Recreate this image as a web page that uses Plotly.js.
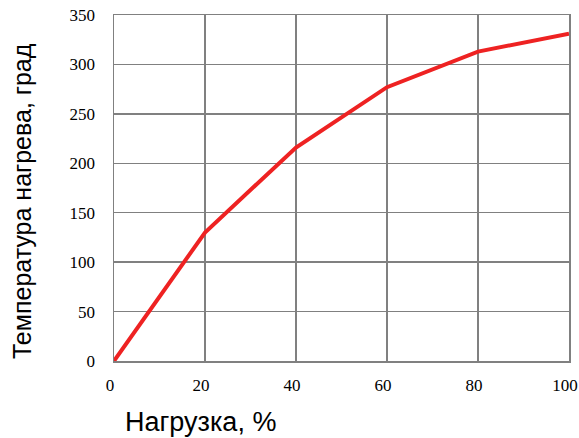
<!DOCTYPE html>
<html><head><meta charset="utf-8">
<script src="https://cdn.plot.ly/plotly-3.0.1.min.js"></script>
<style>body{margin:0;background:#fff}#c{width:579px;height:438px}</style>
</head><body><div id="c"></div>
<script>
const load = [0, 20, 40, 60, 80, 100];
const temp = [0, 130, 216, 277, 313, 331];
const xTicks = [0, 20, 40, 60, 80, 100];
const yTicks = [0, 50, 100, 150, 200, 250, 300, 350];
const xTitle = 'Нагрузка, %';
const yTitle = 'Температура нагрева, град';

const tickFont = {family: 'Liberation Serif, Times New Roman, serif', size: 17, color: '#000'};

Plotly.newPlot('c', [{
  x: load, y: temp, mode: 'lines', type: 'scatter',
  line: {color: '#ee2222', width: 4}
}], {
  width: 579, height: 438,
  margin: {l: 114, r: 10, t: 15, b: 77},
  paper_bgcolor: '#fff', plot_bgcolor: '#fff',
  showlegend: false,
  xaxis: {range: [0, 100], tickvals: xTicks, ticktext: xTicks.map(String),
    showgrid: true, gridcolor: '#808080', gridwidth: 1.5, zeroline: false,
    showline: true, linecolor: '#808080', linewidth: 1.5, mirror: true,
    tickfont: tickFont, ticks: '', ticklabelstandoff: 8, ticklabelshift: -4, ticklabeloverflow: 'allow'},
  yaxis: {range: [0, 350], tickvals: yTicks, ticktext: yTicks.map(String),
    showgrid: true, gridcolor: '#808080', gridwidth: 1.5, zeroline: false,
    showline: true, linecolor: '#808080', linewidth: 1.5, mirror: true,
    tickfont: tickFont, ticks: '', ticklabelstandoff: 14, ticklabeloverflow: 'allow'},
  annotations: [
    {text: xTitle, xref: 'paper', yref: 'paper', x: (200 - 114) / 455, y: -(422 - 361) / 346,
     xanchor: 'center', yanchor: 'middle', showarrow: false,
     font: {family: 'Liberation Sans, Arial, sans-serif', size: 27, color: '#000'}},
    {text: yTitle, xref: 'paper', yref: 'paper', x: -(114 - 22) / 455, y: (361 - 201) / 346,
     xanchor: 'center', yanchor: 'middle', textangle: -90, showarrow: false,
     font: {family: 'Liberation Sans, Arial, sans-serif', size: 25, color: '#000'}}
  ]
}, {displayModeBar: false, staticPlot: true});
</script></body></html>
